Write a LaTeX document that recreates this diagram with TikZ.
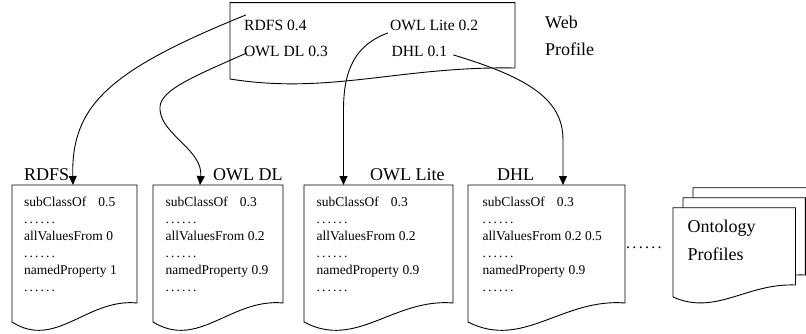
\documentclass[tikz,border=0pt]{standalone}
\usepackage{fontspec}
\setmainfont{Liberation Serif}
\usetikzlibrary{arrows.meta,calc}
\tikzset{
  docline/.style={draw=black, line width=0.9pt, fill=white, line join=miter},
  arr/.style={line width=0.9pt, -{Triangle[length=9pt,width=8pt]}},
  wtext/.style={font=\fontsize{15.6}{18}\selectfont, inner sep=0pt, anchor=base west},
  lbl/.style={font=\fontsize{18}{20}\selectfont, inner sep=0pt, anchor=base west},
  doctext/.style={font=\fontsize{13.5}{16}\selectfont, inner sep=0pt, anchor=base west},
}
\newcommand{\sixdots}[1]{.\hspace{#1}.\hspace{#1}.\hspace{#1}.\hspace{#1}.\hspace{#1}.}
% #1 x0, #2 x1, #3 top, #4 left bottom, #5 right bottom, #6 dip, #7 rise
\newcommand{\mydoc}[7]{%
  \draw[docline] (#1,#3) -- (#2,#3) -- (#2,#5)
    .. controls ({#1+0.6*(#2-#1)},{#5-#7}) and ({#1+0.35*(#2-#1)},{#4+#6}) .. (#1,#4) -- cycle;}
\newcommand{\doclines}[5]{%
  \node[doctext] (#1a) at (#2,206.5) {#3};
  \node[doctext] (#1b) at (#2,223.5) {\sixdots{2.1pt}};
  \node[doctext] (#1c) at (#2,240.5) {#4};
  \node[doctext] (#1d) at (#2,257.5) {\sixdots{2.1pt}};
  \node[doctext] (#1e) at (#2,274.5) {#5};
  \node[doctext] (#1f) at (#2,291.5) {\sixdots{2.1pt}};}
\begin{document}
\begin{tikzpicture}[x=1pt,y=-1pt]
\useasboundingbox (0,0) rectangle (806,334);

% Web profile box
\mydoc{230}{515}{2.7}{79}{68}{16}{2}
\node[wtext] (wRDFS) at (244,30.5) {RDFS 0.4};
\node[wtext] (wOWLDL) at (244,57) {OWL DL 0.3};
\node[wtext] (wLite) at (390,30.5) {OWL Lite 0.2};
\node[wtext] (wDHL) at (391.5,57) {DHL 0.1};
\node[lbl] (web) at (545,29) {Web};
\node[lbl] (profile) at (545,56) {Profile};

% documents
\mydoc{12}{137}{185}{322}{303}{28}{5}
\mydoc{153}{283}{185}{322}{303}{28}{5}
\mydoc{304}{453}{185}{322}{303}{28}{5}
\mydoc{468}{625}{185}{322}{303}{28}{5}

\node[lbl] (lRDFS) at (24,180) {RDFS};
\node[lbl] (lOWLDL) at (213,180) {OWL DL};
\node[lbl] (lLite) at (370,181) {OWL Lite};
\node[lbl] (lDHL) at (497,180) {DHL};

\doclines{da}{24}{subClassOf\hspace{12pt}0.5}{allValuesFrom 0}{namedProperty 1}
\doclines{db}{165.5}{subClassOf\hspace{12pt}0.3}{allValuesFrom 0.2}{namedProperty 0.9}
\doclines{dc}{316.5}{subClassOf\hspace{12pt}0.3}{allValuesFrom 0.2}{namedProperty 0.9}
\doclines{dd}{482.5}{subClassOf\hspace{12pt}0.3}{allValuesFrom 0.2 0.5}{namedProperty 0.9}

\node[font=\fontsize{16}{18}\selectfont, inner sep=0pt, anchor=base west] (gap) at (626,248) {\sixdots{2.3pt}};

% ontology profiles stack
\mydoc{693}{815}{187.7}{277}{265}{19}{2}
\mydoc{683}{805.3}{197.7}{287}{275}{19}{2}
\mydoc{673}{795.5}{207.7}{297}{285}{19}{2}
\node[lbl] (onto) at (687.5,232) {Ontology};
\node[lbl] (profs) at (687.5,260) {Profiles};

% arrow targets
\coordinate (t1) at (73,185);
\coordinate (t2) at (200,185);
\coordinate (t3) at (343.5,185);
\coordinate (t4) at (563,185);

\draw[arr] ($(wRDFS.north west)+(2,-5)$) .. controls (110,70) and (71,105) .. (t1);
\draw[arr] ($(wOWLDL.west)+(3,1)$) .. controls (185,80) and (158,92) .. (160,110)
   .. controls (162,135) and (203,150) .. (t2);
\draw[arr] ($(wLite.south west)+(-2,2)$) .. controls (355,45) and (343.5,70) .. (343.5,110) -- (t3);
\draw[arr] ($(wDHL.east)+(6,3)$) .. controls (530,78) and (563,100) .. (563,140) -- (t4);
\end{tikzpicture}
\end{document}
